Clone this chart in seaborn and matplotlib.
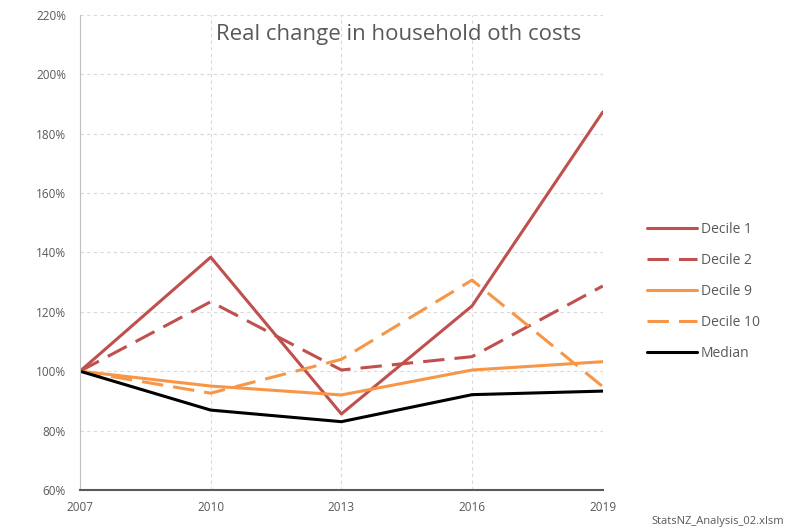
import matplotlib
matplotlib.use("Agg")
import matplotlib.pyplot as plt
import seaborn as sns
import pandas as pd
from matplotlib.ticker import FuncFormatter

years = [2007, 2010, 2013, 2016, 2019]
decile_1 = [100, 138.4, 85.6, 122.0, 187.3]
decile_2 = [100, 123.4, 100.4, 104.9, 128.7]
decile_9 = [100, 95.0, 92.0, 100.4, 103.2]
decile_10 = [100, 92.6, 104.0, 130.7, 94.8]
median = [100, 86.9, 83.0, 92.1, 93.3]

series = {"Decile 1": decile_1, "Decile 2": decile_2, "Decile 9": decile_9,
          "Decile 10": decile_10, "Median": median}
rows = []
for name, vals in series.items():
    for yr, v in zip(years, vals):
        rows.append({"year": yr, "value": v, "group": name})
df = pd.DataFrame(rows)

sns.set_style("white")
plt.rcParams['font.family'] = ['Open Sans', 'DejaVu Sans']

red = "#C0504D"
orange = "#F79646"
palette = {"Decile 1": red, "Decile 2": red, "Decile 9": orange,
           "Decile 10": orange, "Median": "black"}
dashes = {"Decile 1": "", "Decile 2": (7, 3.3), "Decile 9": "",
          "Decile 10": (7, 3.3), "Median": ""}

fig = plt.figure(figsize=(7.89, 5.32), dpi=100)
ax = fig.add_axes([0.1014, 0.079, 0.6626, 0.893])

sns.lineplot(data=df, x="year", y="value", hue="group", style="group",
             palette=palette, dashes=dashes, linewidth=2.2, ax=ax)

ax.set_xlim(2007, 2019)
ax.set_ylim(60, 220)
ax.set_xticks(years)
ax.set_yticks(range(60, 221, 20))
ax.yaxis.set_major_formatter(FuncFormatter(lambda v, p: f"{int(v)}%"))
ax.grid(True, color="#d9d9d9", linestyle=(0, (3, 3)), linewidth=0.8)
ax.set_xlabel("")
ax.set_ylabel("")
for s in ["top", "right"]:
    ax.spines[s].set_visible(False)
ax.spines["left"].set_color("#bfbfbf")
ax.spines["bottom"].set_color("#595959")
ax.spines["bottom"].set_linewidth(1.5)
ax.tick_params(axis="y", labelsize=8.5, colors="#595959", length=0, pad=10)
ax.tick_params(axis="x", labelsize=8.5, colors="#595959", length=0, pad=8)

ax.text(0.609, 0.958, "Real change in household oth costs", transform=ax.transAxes,
        ha="center", va="center", fontsize=16, color="#595959")

handles, labels = ax.get_legend_handles_labels()
ax.legend(handles, labels, loc="center left", bbox_to_anchor=(1.06, 0.418),
          frameon=False, fontsize=10, labelcolor="#595959", handlelength=3.6,
          labelspacing=1.15, handletextpad=0.3)

fig.text(0.994, 0.01, "StatsNZ_Analysis_02.xlsm", ha="right", va="bottom",
         fontsize=8, color="#595959")

fig.savefig("out.png", dpi=100)
